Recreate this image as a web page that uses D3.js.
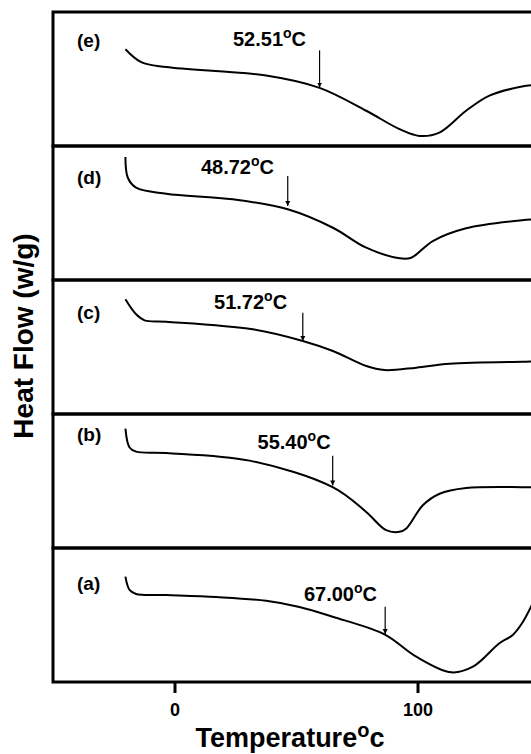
<!DOCTYPE html>
<html>
<head>
<meta charset="utf-8">
<script src="https://cdn.jsdelivr.net/npm/d3@7"></script>
<style>
  body { margin: 0; background: #fff; }
  svg { display: block; font-family: Arial, "Liberation Sans", sans-serif; }
</style>
</head>
<body>
<div id="chart"></div>
<script>
// panels top to bottom
const sampleLabels = ["(e)", "(d)", "(c)", "(b)", "(a)"];
const onsetLabels = ["52.51", "48.72", "51.72", "55.40", "67.00"];
const xTicks = [0, 100];

// heat flow traces, [temperature, relative heat flow (% of panel height)]
const curveE = [[-20.2, 72.2], [-13.7, 62.6], [-3.4, 58.9], [37.7, 52.6], [59.7, 43.4], [78.9, 26.3],
  [92.6, 12.6], [100.8, 7.5], [109, 10], [120, 26.3], [129.6, 37.6], [143, 44.4], [150, 45.9]];
const curveD = [[-20.2, 91.8], [-19.2, 76.3], [-15.8, 68.9], [-3.4, 64.4], [24, 60.2], [46.6, 52.8],
  [65.2, 39], [78.9, 24.1], [92.6, 16.2], [97.4, 16.6], [106.3, 29.1], [120, 38.6], [143, 44.6], [150, 45.5]];
const curveC = [[-20.2, 85.6], [-15.8, 74.4], [-12.3, 69.9], [-3.4, 68.9], [32.2, 63.2], [52.8, 54.5],
  [65.2, 47], [78.9, 35.8], [86.4, 32.8], [99.5, 34.6], [113.2, 37.5], [143, 39], [150, 39.2]];
const curveB = [[-20.2, 89.1], [-18.5, 75], [-15.8, 71.9], [-3.4, 70.9], [30.9, 65.2], [65.1, 45.4],
  [78.9, 26.9], [87.1, 13.3], [92.6, 12.1], [95.4, 14.6], [102.2, 31.9], [109.1, 40.5], [120, 44.7],
  [143, 45.4], [150, 45.2]];
const curveA = [[-20.2, 78.6], [-18.5, 68.7], [-15.8, 65.7], [-3.4, 64.9], [17.2, 63.4], [37.7, 60.6],
  [51.4, 56], [65.1, 48.7], [86.4, 35.6], [99.5, 18.9], [113.9, 7.2], [122.8, 11.4], [133.7, 28.9],
  [139.2, 35.1], [143, 43.8], [148, 61]];
const curves = [curveE, curveD, curveC, curveB, curveA];

// onset arrows: temperature, arrow top, arrow tip (panel %)
const arrowT = [59.7, 46.6, 52.8, 65.1, 86.7];
const arrowTop = [71.4, 77.6, 75.6, 68.9, 56.2];
const arrowTip = [43.6, 55.2, 54.5, 46.7, 35.8];
// onset label centre temperature and baseline (panel %)
const onsetLabelT = [39.1, 25.9, 31.3, 49.2, 68.3];
const onsetLabelY = [74.5, 79.1, 78.4, 74.1, 60.7];
const sampleLabelY = [73.8, 71.6, 70.9, 80, 68.7];

const width = 531, height = 754;
const margin = { top: 12, left: 53, bottom: 72 };
const panelH = (height - margin.top - margin.bottom) / sampleLabels.length;

const svg = d3.select("#chart").append("svg")
  .attr("width", width)
  .attr("height", height);

svg.append("defs").append("marker")
  .attr("id", "head")
  .attr("viewBox", "0 0 10 10")
  .attr("refX", 10).attr("refY", 5)
  .attr("markerWidth", 5).attr("markerHeight", 8)
  .attr("markerUnits", "userSpaceOnUse")
  .attr("orient", "auto")
  .append("path")
  .attr("d", "M0,0 L10,5 L0,10 Z")
  .attr("fill", "#000");

const x = d3.scaleLinear()
  .domain([-50, 150])
  .range([margin.left, margin.left + 200 * 2.43]);

sampleLabels.forEach((lab, i) => {
  const top = margin.top + i * panelH;
  const y = d3.scaleLinear().domain([0, 100]).range([top + panelH, top]);
  const g = svg.append("g");

  g.append("rect")
    .attr("x", margin.left)
    .attr("y", top)
    .attr("width", x.range()[1] - margin.left)
    .attr("height", panelH)
    .attr("fill", "none")
    .attr("stroke", "#000")
    .attr("stroke-width", 3);

  const line = d3.line()
    .x(d => x(d[0]))
    .y(d => y(d[1]))
    .curve(d3.curveCatmullRom.alpha(0.5));

  g.append("path")
    .datum(curves[i])
    .attr("d", line)
    .attr("fill", "none")
    .attr("stroke", "#000")
    .attr("stroke-width", 2);

  g.append("text")
    .attr("x", margin.left + 24)
    .attr("y", y(sampleLabelY[i]))
    .attr("font-size", "19px")
    .attr("font-weight", "bold")
    .text(lab);

  const t = g.append("text")
    .attr("x", x(onsetLabelT[i]))
    .attr("y", y(onsetLabelY[i]))
    .attr("text-anchor", "middle")
    .attr("font-size", "20px")
    .attr("font-weight", "bold");
  t.append("tspan").text(onsetLabels[i]);
  t.append("tspan").attr("font-size", "14px").attr("dy", -8).text("o");
  t.append("tspan").attr("dy", 8).text("C");

  g.append("line")
    .attr("x1", x(arrowT[i])).attr("x2", x(arrowT[i]))
    .attr("y1", y(arrowTop[i])).attr("y2", y(arrowTip[i]))
    .attr("stroke", "#000")
    .attr("stroke-width", 1.2)
    .attr("marker-end", "url(#head)");
});

const axisY = margin.top + panelH * sampleLabels.length;
const xAxis = svg.append("g")
  .attr("transform", `translate(0,${axisY})`)
  .call(d3.axisBottom(x).tickValues(xTicks).tickSize(11).tickPadding(10));
xAxis.select(".domain").remove();
xAxis.selectAll(".tick line").attr("stroke-width", 3);
xAxis.selectAll(".tick text")
  .attr("font-size", "18px")
  .attr("font-weight", "bold")
  .attr("font-family", "Arial, 'Liberation Sans', sans-serif")
  .attr("fill", "#000");

const xt = svg.append("text")
  .attr("x", 290)
  .attr("y", 747)
  .attr("text-anchor", "middle")
  .attr("font-size", "27px")
  .attr("font-weight", "bold");
xt.append("tspan").text("Temperature");
xt.append("tspan").attr("font-size", "20px").attr("dy", -10).text("o");
xt.append("tspan").attr("dy", 10).text("c");

svg.append("text")
  .attr("transform", "translate(33,336) rotate(-90)")
  .attr("text-anchor", "middle")
  .attr("font-size", "28px")
  .attr("font-weight", "bold")
  .text("Heat Flow (w/g)");
</script>
</body>
</html>
